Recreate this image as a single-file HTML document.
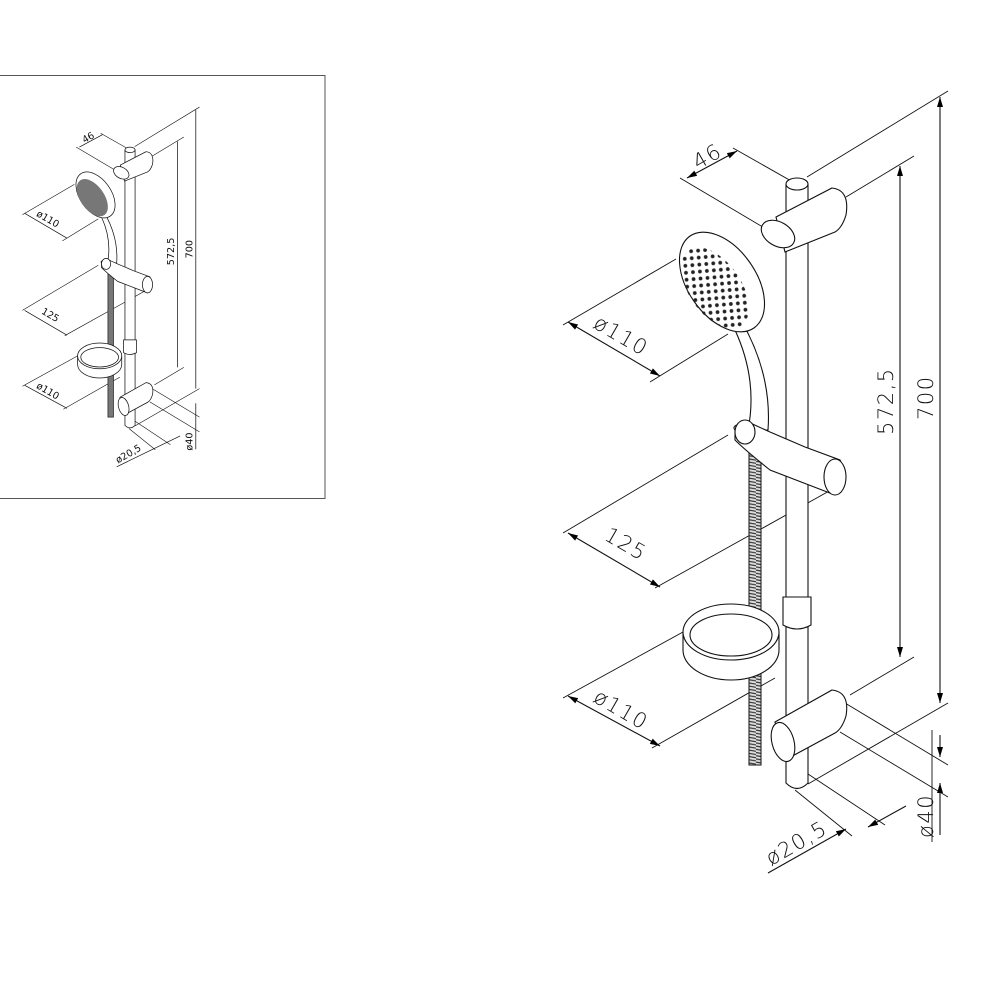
<!DOCTYPE html>
<html><head><meta charset="utf-8"><style>html,body{margin:0;padding:0;background:#fff}svg{display:block}</style></head><body>
<svg width="1000" height="1000" viewBox="0 0 1000 1000" xmlns="http://www.w3.org/2000/svg" font-family="'DejaVu Sans','Liberation Sans',sans-serif">
<defs>
<pattern id="dots" width="7" height="7" patternUnits="userSpaceOnUse" patternTransform="rotate(30)"><circle cx="3.5" cy="3.5" r="1.9" fill="#222"/></pattern>
<pattern id="thread" width="12" height="3.2" patternUnits="userSpaceOnUse"><rect width="12" height="3.2" fill="#ddd"/><line x1="0" y1="0.5" x2="12" y2="2.5" stroke="#333" stroke-width="1.2"/></pattern>
<marker id="ar" viewBox="0 0 10 6" refX="10" refY="3" markerWidth="10" markerHeight="6" orient="auto-start-reverse" markerUnits="userSpaceOnUse"><path d="M0,0 L10,3 L0,6 Z" fill="#000"/></marker>
</defs>
<rect x="-1" y="75.5" width="326" height="423" fill="none" stroke="#555" stroke-width="1"/>

<g stroke="#111" stroke-width="1.1" fill="none">
<g stroke-width="0.9">
<line x1="807" y1="177" x2="948" y2="91"/>
<line x1="808" y1="784" x2="948" y2="703"/>
<line x1="846" y1="197" x2="914" y2="156"/>
<line x1="850" y1="695" x2="914" y2="657"/>
<line x1="680" y1="178" x2="778" y2="236"/>
<line x1="733" y1="148" x2="800" y2="186"/>
<line x1="563" y1="325" x2="676" y2="259"/>
<line x1="650" y1="382" x2="728" y2="334"/>
<line x1="563" y1="533" x2="728" y2="435"/>
<line x1="655" y1="588" x2="840" y2="485"/>
<line x1="563" y1="698" x2="683" y2="632"/>
<line x1="652" y1="748" x2="775" y2="678"/>
<line x1="845" y1="703" x2="948" y2="765"/>
<line x1="840" y1="732" x2="948" y2="797"/>
<line x1="795" y1="790" x2="852" y2="836"/>
<line x1="802" y1="770" x2="885" y2="825"/>
<line x1="932" y1="730" x2="932" y2="842"/>
</g>
<line x1="940" y1="97" x2="940" y2="703" marker-start="url(#ar)" marker-end="url(#ar)"/>
<line x1="900" y1="166" x2="900" y2="657" marker-start="url(#ar)" marker-end="url(#ar)"/>
<line x1="687" y1="178" x2="737" y2="151" marker-start="url(#ar)" marker-end="url(#ar)"/>
<line x1="568" y1="322" x2="660" y2="376" marker-start="url(#ar)" marker-end="url(#ar)"/>
<line x1="568" y1="533" x2="660" y2="587" marker-start="url(#ar)" marker-end="url(#ar)"/>
<line x1="568" y1="696" x2="660" y2="746" marker-start="url(#ar)" marker-end="url(#ar)"/>
<line x1="940" y1="735" x2="940" y2="757" marker-end="url(#ar)"/>
<line x1="940" y1="835" x2="940" y2="783" marker-end="url(#ar)"/>
<line x1="768" y1="873" x2="846" y2="829" marker-end="url(#ar)"/>
<line x1="906" y1="806" x2="868" y2="827" marker-end="url(#ar)"/>
<g fill="#111" stroke="none" font-size="21" font-weight="300" letter-spacing="1.5">
<text transform="translate(698,170) rotate(-30)">46</text>
<text transform="translate(592,327) rotate(30)">ø110</text>
<text transform="translate(603,539) rotate(30)">125</text>
<text transform="translate(592,701) rotate(30)">ø110</text>
<text transform="translate(893,435) rotate(-90)">572,5</text>
<text transform="translate(933,420) rotate(-90)">700</text>
<text transform="translate(933,838) rotate(-90)">ø40</text>
<text transform="translate(771,866) rotate(-30)">ø20,5</text>
</g>
<path d="M786,240 L786,783 Q797,794 808,783 L808,240" fill="#fff"/>
<path d="M786,184 L786,215 M808,184 L808,215"/>
<ellipse cx="797" cy="184" rx="11" ry="6" fill="#fff"/>
<path d="M776,217 L832,188 Q850,190 846,215 Q842,228 835,232 L785,252 Z" fill="#fff"/>
<ellipse cx="778" cy="234" rx="12" ry="18" transform="rotate(-60 778 234)" fill="#fff"/>
<path d="M735,330 Q758,380 748,430 L768,430 Q772,375 742,322 Z" fill="#fff"/>
<ellipse cx="722" cy="282" rx="56" ry="34" transform="rotate(55 722 282)" fill="#fff"/>
<ellipse cx="715" cy="288" rx="46" ry="26" transform="rotate(55 715 288)" fill="url(#dots)" stroke="none"/>
<rect x="749" y="450" width="12" height="315" fill="url(#thread)" stroke="#222"/>
<path d="M735,430 Q730,425 748,422 L770,432 L805,447 L840,460 Q850,480 835,495 L770,470 Q745,450 735,440 Z" fill="#fff"/>
<ellipse cx="835" cy="477" rx="11" ry="18" fill="#fff"/>
<ellipse cx="745" cy="432" rx="10" ry="12" fill="#fff"/>
<path d="M783,597 L811,597 L811,625 Q797,633 783,625 Z" fill="#fff"/>
<path d="M683,632 L683,650 A48,30 0 0 0 779,650 L779,632" fill="#fff"/>
<ellipse cx="731" cy="632" rx="48" ry="28" fill="#fff"/>
<ellipse cx="731" cy="635" rx="41" ry="21"/>
<path d="M775,722 L832,690 Q850,692 846,716 Q842,729 835,733 L785,760 Z" fill="#fff"/>
<ellipse cx="783" cy="742" rx="11" ry="20" transform="rotate(-15 783 742)" fill="#fff"/>
</g>

<g transform="translate(-236.6,65.2) scale(0.46)" stroke="#111" stroke-width="1.6" fill="none">
<g stroke-width="1.3">
<line x1="807" y1="177" x2="948" y2="91"/><line x1="808" y1="784" x2="948" y2="703"/>
<line x1="846" y1="197" x2="914" y2="156"/><line x1="850" y1="695" x2="914" y2="657"/>
<line x1="680" y1="178" x2="778" y2="236"/><line x1="733" y1="148" x2="800" y2="186"/>
<line x1="563" y1="325" x2="676" y2="259"/><line x1="650" y1="382" x2="728" y2="334"/>
<line x1="563" y1="533" x2="728" y2="435"/><line x1="655" y1="588" x2="840" y2="485"/>
<line x1="563" y1="698" x2="683" y2="632"/><line x1="652" y1="748" x2="775" y2="678"/>
<line x1="845" y1="703" x2="948" y2="765"/><line x1="840" y1="732" x2="948" y2="797"/>
<line x1="795" y1="790" x2="852" y2="836"/><line x1="802" y1="770" x2="885" y2="825"/>
</g>
<line x1="940" y1="97" x2="940" y2="703"/><line x1="900" y1="166" x2="900" y2="657"/>
<line x1="687" y1="178" x2="737" y2="151"/><line x1="568" y1="322" x2="660" y2="376"/>
<line x1="568" y1="533" x2="660" y2="587"/><line x1="568" y1="696" x2="660" y2="746"/>
<line x1="940" y1="735" x2="940" y2="835"/><line x1="768" y1="873" x2="906" y2="806"/>
<g fill="#111" stroke="none" font-size="21">
<text transform="translate(698,170) rotate(-30)">46</text>
<text transform="translate(592,327) rotate(30)">ø110</text>
<text transform="translate(603,539) rotate(30)">125</text>
<text transform="translate(592,701) rotate(30)">ø110</text>
<text transform="translate(893,435) rotate(-90)">572,5</text>
<text transform="translate(933,420) rotate(-90)">700</text>
<text transform="translate(933,838) rotate(-90)">ø40</text>
<text transform="translate(771,866) rotate(-30)">ø20,5</text>
</g>
<path d="M786,240 L786,783 Q797,794 808,783 L808,240" fill="#fff"/>
<path d="M786,184 L786,215 M808,184 L808,215"/>
<ellipse cx="797" cy="184" rx="11" ry="6" fill="#fff"/>
<path d="M776,217 L832,188 Q850,190 846,215 Q842,228 835,232 L785,252 Z" fill="#fff"/>
<ellipse cx="778" cy="234" rx="12" ry="18" transform="rotate(-60 778 234)" fill="#fff"/>
<path d="M735,330 Q758,380 748,430 L768,430 Q772,375 742,322 Z" fill="#fff"/>
<ellipse cx="722" cy="282" rx="56" ry="34" transform="rotate(55 722 282)" fill="#fff"/>
<ellipse cx="715" cy="288" rx="46" ry="26" transform="rotate(55 715 288)" fill="#777" stroke="none"/>
<rect x="749" y="450" width="12" height="315" fill="#777" stroke="#222"/>
<path d="M735,430 Q730,425 748,422 L770,432 L805,447 L840,460 Q850,480 835,495 L770,470 Q745,450 735,440 Z" fill="#fff"/>
<ellipse cx="835" cy="477" rx="11" ry="18" fill="#fff"/>
<ellipse cx="745" cy="432" rx="10" ry="12" fill="#fff"/>
<path d="M783,597 L811,597 L811,625 Q797,633 783,625 Z" fill="#fff"/>
<path d="M683,632 L683,650 A48,30 0 0 0 779,650 L779,632" fill="#fff"/>
<ellipse cx="731" cy="632" rx="48" ry="28" fill="#fff"/>
<ellipse cx="731" cy="635" rx="41" ry="21"/>
<path d="M775,722 L832,690 Q850,692 846,716 Q842,729 835,733 L785,760 Z" fill="#fff"/>
<ellipse cx="783" cy="742" rx="11" ry="20" transform="rotate(-15 783 742)" fill="#fff"/>
</g>
</svg>
</body></html>
